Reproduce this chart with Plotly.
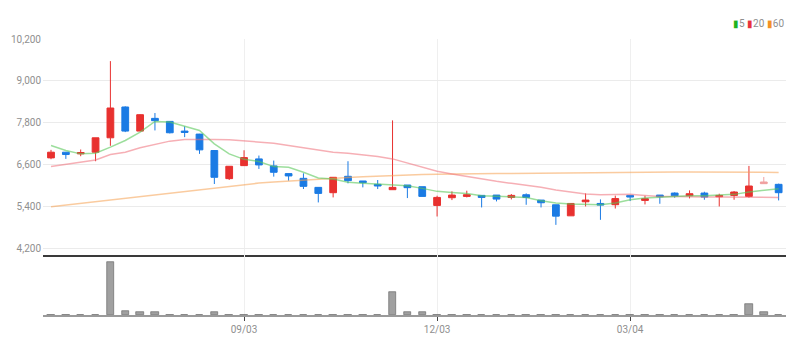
import plotly.graph_objects as go
import pandas as pd

# ---------------- data (weekly candles) ----------------
dates = pd.date_range("2018-06-04", periods=50, freq="7D")

open_ = [6792, 6955, 6907, 6955, 7368, 8251, 7560, 7925, 7838, 7560,
         7474, 7003, 6197, 6570, 6763, 6562, 6341, 6206, 5947, 5794,
         6264, 6130, 6034, 5880, 6014, 5966, 5429, 5650, 5688, 5717,
         5726, 5659, 5736, 5582, 5448, 5131, 5534, 5486, 5450, 5717,
         5573, 5726, 5784, 5707, 5784, 5678, 5717, 5688, 6053, 6034]
high = [7022, 6960, 7032, 7368, 9566, 8270, 8040, 8078, 7840, 7694,
        7480, 7010, 6552, 7010, 6859, 6715, 6341, 6350, 5950, 6240,
        6696, 6130, 6158, 7867, 6014, 5966, 5707, 5832, 5851, 5717,
        5726, 5755, 5774, 5582, 5448, 5486, 5774, 5602, 5710, 5717,
        5707, 5726, 5803, 5861, 5822, 5765, 5842, 6562, 6245, 6053]
low = [6754, 6763, 6840, 6696, 7138, 7531, 7560, 7579, 7493, 7387,
       6907, 6043, 6158, 6565, 6475, 6254, 6139, 5899, 5515, 5659,
       6062, 5947, 5899, 5880, 5640, 5688, 5112, 5582, 5659, 5371,
       5544, 5602, 5448, 5371, 4872, 5131, 5400, 5016, 5340, 5554,
       5458, 5477, 5650, 5630, 5592, 5400, 5592, 5650, 6053, 5573]
close = [6955, 6888, 6946, 7368, 8222, 7560, 8030, 7858, 7512, 7522,
         7022, 6235, 6552, 6800, 6590, 6379, 6274, 5976, 5774, 6235,
         6139, 6082, 5986, 5947, 5938, 5688, 5659, 5726, 5736, 5659,
         5611, 5717, 5659, 5506, 5122, 5486, 5582, 5438, 5625, 5669,
         5621, 5678, 5707, 5765, 5669, 5717, 5813, 5986, 6101, 5794]

ma5 = [7147, 7003, 6907, 6926, 7099, 7291, 7531, 7838, 7819, 7694,
       7579, 7195, 6907, 6750, 6690, 6542, 6523, 6379, 6216, 6187,
       6091, 6062, 6043, 6024, 5995, 5918, 5832, 5803, 5774, 5707,
       5688, 5659, 5659, 5563, 5496, 5467, 5448, 5448, 5500, 5592,
       5640, 5669, 5688, 5707, 5707, 5717, 5746, 5813, 5861, 5909]
ma20 = [6542, 6600, 6667, 6734, 6888, 6955, 7080, 7176, 7272, 7320,
        7330, 7320, 7310, 7272, 7243, 7214, 7147, 7080, 7003, 6955,
        6926, 6888, 6830, 6763, 6638, 6523, 6408, 6331, 6254, 6187,
        6120, 6062, 6014, 5947, 5870, 5803, 5755, 5736, 5736, 5746,
        5717, 5688, 5688, 5669, 5669, 5669, 5669, 5669, 5669, 5659]
ma60 = [5390, 5440, 5490, 5540, 5590, 5640, 5690, 5740, 5790, 5840,
        5890, 5940, 5990, 6030, 6070, 6100, 6130, 6160, 6180, 6200,
        6230, 6250, 6270, 6290, 6305, 6315, 6320, 6330, 6335, 6340,
        6345, 6345, 6350, 6350, 6350, 6350, 6355, 6355, 6360, 6380,
        6385, 6385, 6385, 6385, 6385, 6385, 6385, 6385, 6385, 6375]

volume = [4, 4, 4, 4, 527, 43, 27, 27, 4, 4,
          4, 27, 4, 4, 4, 4, 0, 4, 4, 0,
          4, 0, 4, 233, 27, 27, 4, 4, 0, 4,
          4, 4, 4, 0, 4, 0, 4, 4, 4, 0,
          0, 0, 0, 0, 0, 0, 4, 110, 27, 0]

tick_dates = ["2018-09-03", "2018-12-03", "2019-03-04"]
price_ticks = [4200, 5400, 6600, 7800, 9000, 10200]
faded_idx = [48]

# ---------------- styling ----------------
RED = "#e8312f"
BLUE = "#1b7be4"
FONT = "Roboto, Liberation Sans, sans-serif"
TICK_COLOR = "#8f8f8f"

fig = go.Figure()

for vals, col in [(ma60, "rgba(246,160,80,0.55)"),
                  (ma20, "rgba(238,110,120,0.55)"),
                  (ma5, "rgba(90,200,90,0.6)")]:
    fig.add_trace(go.Scatter(x=dates, y=vals, mode="lines",
                             line=dict(color=col, width=1.5),
                             hoverinfo="skip", showlegend=False,
                             xaxis="x", yaxis="y"))

main_idx = [i for i in range(len(dates)) if i not in faded_idx]


def pick(arr, idx):
    return [arr[i] for i in idx]


fig.add_trace(go.Candlestick(
    x=pick(list(dates), main_idx),
    open=pick(open_, main_idx), high=pick(high, main_idx),
    low=pick(low, main_idx), close=pick(close, main_idx),
    increasing=dict(line=dict(color=RED, width=1), fillcolor=RED),
    decreasing=dict(line=dict(color=BLUE, width=1), fillcolor=BLUE),
    showlegend=False, xaxis="x", yaxis="y"))
fig.add_trace(go.Candlestick(
    x=pick(list(dates), faded_idx),
    open=pick(open_, faded_idx), high=pick(high, faded_idx),
    low=pick(low, faded_idx), close=pick(close, faded_idx),
    increasing=dict(line=dict(color="#f0a0a0", width=1), fillcolor="#f0a0a0"),
    decreasing=dict(line=dict(color="#a0c4f0", width=1), fillcolor="#a0c4f0"),
    showlegend=False, xaxis="x", yaxis="y"))

week_ms = 7 * 24 * 3600 * 1000
fig.add_trace(go.Bar(x=dates, y=volume, width=0.5 * week_ms,
                     marker=dict(color="#a0a0a0", line=dict(color="#5e5e5e", width=0.6)),
                     showlegend=False, xaxis="x2", yaxis="y2"))

x_start = dates[0] - pd.Timedelta(days=3.77)
x_end = dates[-1] + pd.Timedelta(days=3.47)

vol_frac = 60 / 276

fig.update_layout(
    width=803, height=354,
    margin=dict(l=43, r=17, t=39, b=39, autoexpand=False),
    paper_bgcolor="white", plot_bgcolor="white",
    font=dict(family=FONT, size=10, color=TICK_COLOR),
    showlegend=False,
    bargap=0,
    boxgap=0.35,
    xaxis=dict(domain=[0, 1], anchor="y", type="date",
               range=[x_start, x_end], automargin=False,
               tickvals=tick_dates, showticklabels=False,
               showgrid=True, gridcolor="#efefef", gridwidth=1,
               showline=True, linecolor="#3a3a3a", linewidth=2,
               ticks="", rangeslider=dict(visible=False), fixedrange=True),
    yaxis=dict(domain=[vol_frac, 1], anchor="x", automargin=False,
               range=[4008, 10200], tickvals=price_ticks,
               tickformat=",", showgrid=True, gridcolor="#ebebeb",
               zeroline=False, ticks="", ticklabelstandoff=1,
               tickfont=dict(family=FONT, size=10, color=TICK_COLOR)),
    xaxis2=dict(domain=[0, 1], anchor="y2", type="date", matches="x",
                range=[x_start, x_end], automargin=False,
                tickvals=tick_dates, tickformat="%m/%d",
                showgrid=True, gridcolor="#efefef",
                showline=True, linecolor="#9a9a9a", linewidth=2,
                ticks="outside", ticklen=4, tickcolor="#444", tickwidth=1,
                tickfont=dict(family=FONT, size=10, color=TICK_COLOR),
                rangeslider=dict(visible=False)),
    yaxis2=dict(domain=[0, vol_frac], anchor="x2", range=[0, 600],
                automargin=False,
                showticklabels=False, showgrid=False, zeroline=False),
)

fig.add_annotation(
    xref="paper", yref="paper", x=1.0, y=1 + 15 / 276,
    xanchor="right", yanchor="middle", showarrow=False,
    text=('<span style="color:#1db31d">▮</span>5 '
          '<span style="color:#e8323c">▮</span>20 '
          '<span style="color:#f39224">▮</span>60'),
    font=dict(family=FONT, size=10, color="#8f8f8f"))

fig.write_html("out.html")
